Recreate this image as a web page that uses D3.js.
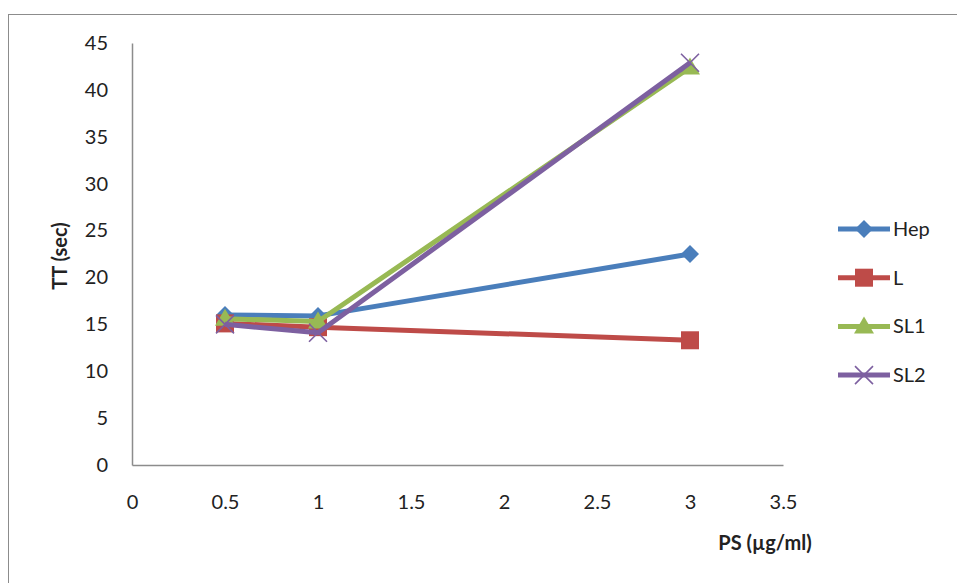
<!DOCTYPE html>
<html><head><meta charset="utf-8">
<script src="https://cdn.jsdelivr.net/npm/d3@7"></script>
<style>body{margin:0;background:#fff}svg{display:block;font-family:Lato,"Open Sans",sans-serif}</style>
</head><body><svg id="c" width="957" height="583"></svg>
<script>
const xValues = [0.5, 1, 3];
const seriesNames = ["Hep", "L", "SL1", "SL2"];
const hepValues = [16.0, 15.9, 22.5];
const lValues = [15.1, 14.7, 13.3];
const sl1Values = [15.6, 15.3, 42.4];
const sl2Values = [15.0, 14.1, 42.9];
const xTicks = [0, 0.5, 1, 1.5, 2, 2.5, 3, 3.5];
const yTicks = [0, 5, 10, 15, 20, 25, 30, 35, 40, 45];
const colors = ["#4A7EBB", "#BE4B48", "#98B954", "#7D60A0"];
const markers = ["diamond", "square", "triangle", "x"];
const FS = 20;

const svg = d3.select("#c");
svg.append("rect").attr("x", 8.5).attr("y", 14.5).attr("width", 960).attr("height", 580)
  .attr("fill", "none").attr("stroke", "#8c8c8c").attr("stroke-width", 1);

const x = d3.scaleLinear().domain([0, 3.5]).range([132, 783]);
const y = d3.scaleLinear().domain([0, 45]).range([465, 43]);

const gx = svg.append("g").attr("transform", "translate(0,465)")
  .call(d3.axisBottom(x).tickValues(xTicks).tickSize(0).tickPadding(30).tickFormat(d3.format("")));
gx.select(".domain").attr("stroke", "#8c8c8c").attr("stroke-width", 1.5);
gx.selectAll("text").attr("font-size", FS).attr("fill", "#222").attr("font-family", "Lato,'Open Sans',sans-serif");

const gy = svg.append("g").attr("transform", "translate(132,0)")
  .call(d3.axisLeft(y).tickValues(yTicks).tickSize(0).tickPadding(24));
gy.select(".domain").attr("stroke", "#8c8c8c").attr("stroke-width", 1.5);
gy.selectAll("text").attr("font-size", FS).attr("fill", "#222").attr("font-family", "Lato,'Open Sans',sans-serif");

svg.append("text").attr("transform", "translate(67,256) rotate(-90)").attr("text-anchor", "middle")
  .attr("font-size", FS).attr("font-weight", "bold").attr("fill", "#222").text("TT (sec)");
svg.append("text").attr("x", 765).attr("y", 550).attr("text-anchor", "middle")
  .attr("font-size", FS).attr("font-weight", "bold").attr("fill", "#222").text("PS (µg/ml)");

const allSeries = [hepValues, lValues, sl1Values, sl2Values];
const line = d3.line().x((d, i) => x(xValues[i])).y(d => y(d));

function drawMarker(g, type, cx, cy, color) {
  if (type === "diamond") {
    g.append("path").attr("d", `M${cx},${cy-9}L${cx+9},${cy}L${cx},${cy+9}L${cx-9},${cy}Z`).attr("fill", color);
  } else if (type === "square") {
    g.append("rect").attr("x", cx-9).attr("y", cy-9).attr("width", 18).attr("height", 18).attr("fill", color);
  } else if (type === "triangle") {
    g.append("path").attr("d", `M${cx},${cy-10}L${cx+10},${cy+7}L${cx-10},${cy+7}Z`).attr("fill", color);
  } else {
    g.append("path").attr("d", `M${cx-9},${cy-9}L${cx+9},${cy+9}M${cx-9},${cy+9}L${cx+9},${cy-9}`)
      .attr("stroke", color).attr("stroke-width", 1.6).attr("fill", "none");
  }
}

allSeries.forEach((vals, s) => {
  const g = svg.append("g");
  g.append("path").datum(vals).attr("d", line).attr("fill", "none")
    .attr("stroke", colors[s]).attr("stroke-width", 5).attr("stroke-linejoin", "round");
  vals.forEach((v, i) => drawMarker(g, markers[s], x(xValues[i]), y(v), colors[s]));
});

// legend
seriesNames.forEach((name, s) => {
  const ly = 229 + s * 48.7;
  const g = svg.append("g");
  g.append("line").attr("x1", 838).attr("x2", 890).attr("y1", ly).attr("y2", ly)
    .attr("stroke", colors[s]).attr("stroke-width", 5);
  drawMarker(g, markers[s], 864, ly, colors[s]);
  g.append("text").attr("x", 893).attr("y", ly + 7).attr("font-size", FS).attr("fill", "#222").text(name);
});
</script></body></html>
